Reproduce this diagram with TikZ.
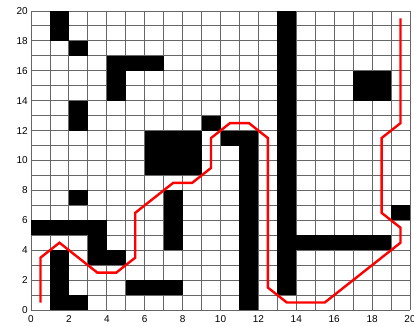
\documentclass[tikz,border=0pt]{standalone}
\usepackage{fontspec}
\setmainfont{Liberation Sans}
\begin{document}
\begin{tikzpicture}[x=18.95pt,y=14.95pt,
  gridline/.style={draw=black!60,line width=0.9pt},
  obstacle/.style={fill=black},
  route/.style={draw=red,line width=2.4pt,line join=miter},
  ticklab/.style={font=\fontsize{10}{11}\selectfont,inner sep=0pt}]
\useasboundingbox (-31pt,-16pt) rectangle (383pt,310pt);
% grid
\foreach \i in {0,...,20} {
  \draw[gridline] (\i,0) -- (\i,20);
  \draw[gridline] (0,\i) -- (20,\i);
}
% obstacles
\foreach \a/\b in {{(1,18)}/{(2,20)},{(2,17)}/{(3,18)},{(4,14)}/{(5,17)},{(4,16)}/{(7,17)},
  {(2,12)}/{(3,14)},{(9,12)}/{(10,13)},{(6,9)}/{(9,12)},{(10,11)}/{(12,12)},{(11,0)}/{(12,12)},
  {(13,1)}/{(14,20)},{(13,4)}/{(19,5)},{(19,6)}/{(20,7)},{(17,14)}/{(19,16)},{(2,7)}/{(3,8)},
  {(0,5)}/{(4,6)},{(3,3)}/{(4,6)},{(3,3)}/{(5,4)},{(1,0)}/{(2,4)},{(2,0)}/{(3,1)},
  {(5,1)}/{(8,2)},{(7,4)}/{(8,8)}} {
  \fill[obstacle] \a rectangle \b;
}
% path
\coordinate (s) at (0.5,0.5);
\coordinate (g) at (19.5,19.5);
\draw[route] (s) -- (0.5,3.5) -- (1.5,4.5) -- (3.5,2.5) -- (4.5,2.5) -- (5.5,3.5) -- (5.5,6.5)
  -- (7.5,8.5) -- (8.5,8.5) -- (9.5,9.5) -- (9.5,11.5) -- (10.5,12.5) -- (11.5,12.5)
  -- (12.5,11.5) -- (12.5,1.5) -- (13.5,0.5) -- (15.5,0.5) -- (19.5,4.5) -- (19.5,5.5)
  -- (18.5,6.5) -- (18.5,11.5) -- (19.5,12.5) -- (g);
% tick labels
\foreach \v in {0,2,...,20} {
  \node[ticklab,anchor=east] (yl\v) at ([xshift=-3pt]0,\v) {\v};
  \node[ticklab,anchor=north] (xl\v) at ([yshift=-5pt]\v,0) {\v};
}
\end{tikzpicture}
\end{document}
